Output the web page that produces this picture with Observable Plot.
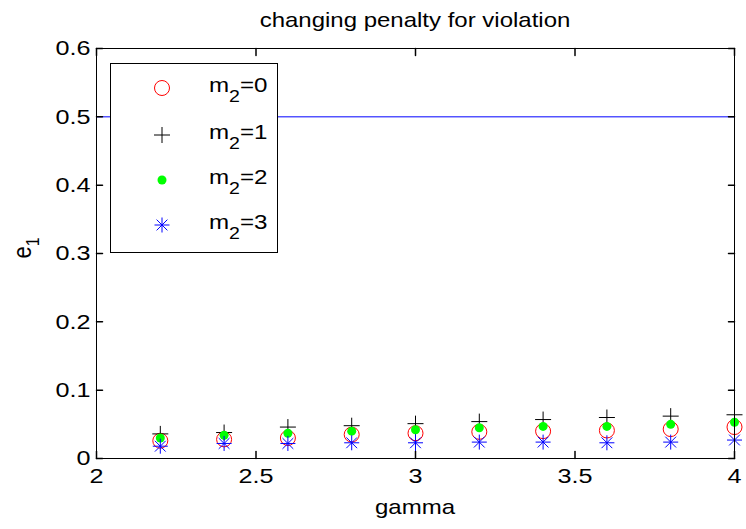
<!DOCTYPE html>
<html>
<head>
<meta charset="utf-8">
<script src="https://cdn.jsdelivr.net/npm/d3@7"></script>
<script src="https://cdn.jsdelivr.net/npm/@observablehq/plot@0.6"></script>
<style>
  body { margin: 0; background: #fff; }
  #chart { position: relative; width: 746px; height: 529px; background: #fff; }
  #chart svg.overlay { position: absolute; left: 0; top: 0; pointer-events: none; }
</style>
</head>
<body>
<div id="chart"></div>
<script>
// gamma values at which e1 was evaluated
const gamma = [2.2, 2.4, 2.6, 2.8, 3.0, 3.2, 3.4, 3.6, 3.8, 4.0];

// e1 for each value of m2
const e1_m0 = [0.026, 0.028, 0.030, 0.035, 0.037, 0.039, 0.040, 0.041, 0.043, 0.046];
const e1_m1 = [0.036, 0.038, 0.046, 0.048, 0.051, 0.054, 0.057, 0.060, 0.062, 0.064];
const e1_m2 = [0.030, 0.034, 0.037, 0.040, 0.042, 0.045, 0.047, 0.047, 0.050, 0.053];
const e1_m3 = [0.018, 0.022, 0.022, 0.023, 0.023, 0.024, 0.024, 0.023, 0.024, 0.027];

// reference level and the stem at gamma = 3
const referenceLevel = [0.5];
const stemGamma = [3.0];
const stemTop = [0.051];

// axes
const xDomain = [2, 4];
const yDomain = [0, 0.6];
const xTicks = [2, 2.5, 3, 3.5, 4];
const yTicks = [0, 0.1, 0.2, 0.3, 0.4, 0.5, 0.6];

const titleText = "changing penalty for violation";
const xLabel = "gamma";
const legendNames = ["0", "1", "2", "3"];

const FONT = "'Liberation Sans', Arial, Helvetica, sans-serif";
const STRETCH = 1.2;

// stroked marker shapes
const radiusOf = size => Math.sqrt(size / Math.PI);
const plusSymbol = {
  draw(ctx, size) {
    const r = radiusOf(size);
    ctx.moveTo(-r, 0); ctx.lineTo(r, 0);
    ctx.moveTo(0, -r); ctx.lineTo(0, r);
  }
};
const starSymbol = {
  draw(ctx, size) {
    const r = radiusOf(size), d = r * 0.72;
    ctx.moveTo(-r, 0); ctx.lineTo(r, 0);
    ctx.moveTo(0, -r); ctx.lineTo(0, r);
    ctx.moveTo(-d, -d); ctx.lineTo(d, d);
    ctx.moveTo(-d, d); ctx.lineTo(d, -d);
  }
};
// inward tick: a plain line from the anchor along the vector direction
const tickShape = {
  draw(ctx, l) { ctx.moveTo(0, 0); ctx.lineTo(0, -l); }
};

const series = [
  {values: e1_m0, symbol: "circle", fill: "none", stroke: "#ff0000", r: 7.5},
  {values: e1_m1, symbol: plusSymbol, fill: "none", stroke: "#000000", r: 8},
  {values: e1_m2, symbol: "circle", fill: "#00ff00", stroke: "none", r: 4.5},
  {values: e1_m3, symbol: starSymbol, fill: "none", stroke: "#0000ff", r: 7.5}
];

const rows = series.map(s => gamma.map((g, i) => ({gamma: g, e1: s.values[i]})));

const fmt = d => String(d);

const chart = Plot.plot({
  width: 746,
  height: 529,
  marginLeft: 96,
  marginRight: 12,
  marginTop: 48,
  marginBottom: 71,
  x: {domain: xDomain},
  y: {domain: yDomain},
  style: {fontFamily: FONT, background: "#fff", color: "#000"},
  marks: [
    Plot.ruleY(referenceLevel, {x1: xDomain[0], x2: xDomain[1], stroke: "#0000ff", strokeWidth: 1}),
    Plot.ruleX(stemGamma, {y1: 0, y2: stemTop, stroke: "#0000ff", strokeWidth: 1}),
    ...series.map((s, k) => Plot.dot(rows[k], {
      x: "gamma", y: "e1",
      symbol: s.symbol, r: s.r,
      fill: s.fill, stroke: s.stroke, strokeWidth: 1
    })),
    // tick labels
    Plot.axisX(xTicks, {anchor: "bottom", tickSize: 0, tickPadding: 10, fontSize: 21, tickFormat: fmt, label: null}),
    Plot.axisY(yTicks, {anchor: "left", tickSize: 0, tickPadding: 6, fontSize: 21, tickFormat: fmt, label: null}),
    // inward ticks on all four sides
    Plot.vector(xTicks, {x: d => d, frameAnchor: "bottom", rotate: 0, length: 7, anchor: "start", shape: tickShape, stroke: "#000"}),
    Plot.vector(xTicks, {x: d => d, frameAnchor: "top", rotate: 180, length: 7, anchor: "start", shape: tickShape, stroke: "#000"}),
    Plot.vector(yTicks, {y: d => d, frameAnchor: "left", rotate: 90, length: 6, anchor: "start", shape: tickShape, stroke: "#000"}),
    Plot.vector(yTicks, {y: d => d, frameAnchor: "right", rotate: -90, length: 6, anchor: "start", shape: tickShape, stroke: "#000"}),
    // axes box
    Plot.ruleX(xDomain, {stroke: "#000", strokeWidth: 1}),
    Plot.ruleY(yDomain, {stroke: "#000", strokeWidth: 1})
  ]
});

// widen the tick labels horizontally around their anchors
d3.select(chart).selectAll("g[aria-label$='tick label'] text").each(function() {
  const t = this.getAttribute("transform") || "";
  this.setAttribute("transform", `${t} scale(${STRETCH},1)`);
});

const host = document.getElementById("chart");
host.appendChild(chart);

// title, axis labels and legend
const ov = d3.select(host).append("svg")
  .attr("class", "overlay")
  .attr("width", 746).attr("height", 529)
  .style("font-family", FONT);

ov.append("text")
  .attr("transform", `translate(415,26.5) scale(${STRETCH},1)`)
  .attr("text-anchor", "middle").attr("font-size", 20)
  .text(titleText);

ov.append("text")
  .attr("transform", `translate(415,514) scale(${STRETCH},1)`)
  .attr("text-anchor", "middle").attr("font-size", 20)
  .text(xLabel);

const yl = ov.append("text")
  .attr("transform", `translate(31,248) scale(${STRETCH},1) rotate(-90)`)
  .attr("text-anchor", "middle").attr("font-size", 22);
yl.append("tspan").text("e");
yl.append("tspan").attr("font-size", 16).attr("dy", 7).text("1");

const lg = ov.append("g");
lg.append("rect")
  .attr("x", 110.5).attr("y", 63.5).attr("width", 167).attr("height", 189)
  .attr("fill", "#fff").attr("stroke", "#000");
const rowY = [88, 135, 180, 225];
series.forEach((s, k) => {
  const size = Math.PI * s.r * s.r;
  const sym = typeof s.symbol === "string" ? d3.symbolCircle : s.symbol;
  lg.append("path")
    .attr("transform", `translate(162,${rowY[k]})`)
    .attr("d", d3.symbol(sym, size)())
    .attr("fill", s.fill).attr("stroke", s.stroke).attr("stroke-width", 1);
  const t = lg.append("text")
    .attr("transform", `translate(209,${rowY[k] + 4}) scale(1.15,1)`)
    .attr("font-size", 21);
  t.append("tspan").text("m");
  t.append("tspan").attr("font-size", 17).attr("dy", 10).text("2");
  t.append("tspan").attr("dy", -10).text("=" + legendNames[k]);
});
</script>
</body>
</html>
